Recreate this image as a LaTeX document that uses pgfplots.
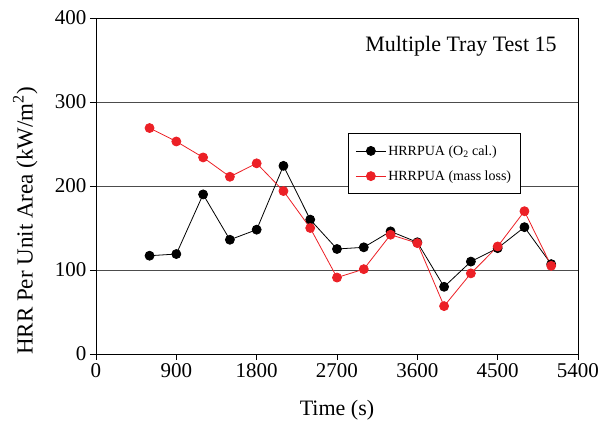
\documentclass[border=0pt]{standalone}
\usepackage{pgfplots}
\pgfplotsset{compat=1.18}
\usepackage{fontspec}
\setmainfont{Liberation Serif}
\definecolor{mlred}{RGB}{236,32,38}

\begin{document}
\begin{tikzpicture}
  \begin{axis}[
    scale only axis,
    width=482pt, height=336pt,
    xmin=0, xmax=5400, ymin=0, ymax=400,
    xtick={0,900,...,5400}, ytick={0,100,...,400},
    tick align=outside, major tick length=6pt,
    xtick pos=bottom, ytick pos=left,
    ymajorgrids, grid style={gray!60!black, line width=0.8pt},
    axis line style={line width=0.8pt},
    tick style={black, line width=0.8pt},
    /pgf/number format/assume math mode=true,
    /pgf/number format/1000 sep={},
    ticklabel style={font=\fontsize{21}{25}\selectfont},
    xlabel={Time (s)}, ylabel={HRR Per Unit Area (kW/m\textsuperscript{2})},
    xlabel style={at={(axis description cs:0.5,-0.167)}, anchor=center,
      font=\fontsize{22}{26}\selectfont},
    ylabel style={at={(axis description cs:-0.147,0.396)}, anchor=center,
      font=\fontsize{23}{27}\selectfont},
    legend style={at={(axis description cs:0.523,0.658)}, anchor=north west,
      font=\fontsize{14}{16}\selectfont, draw=black, line width=0.8pt,
      inner xsep=7pt, inner ysep=10pt, row sep=10pt},
    legend cell align=left,
    legend image code/.code={
      \draw[#1] (0cm,0cm) -- (30pt,0cm);
      \draw[#1, only marks] plot coordinates {(15pt,0cm)};
    },
    clip=false,
  ]
    \addplot[black, line width=0.8pt, mark=*, mark size=4.5pt] coordinates {
      (600,117) (900,119) (1200,190) (1500,136) (1800,148) (2100,224)
      (2400,160) (2700,125) (3000,127) (3300,146) (3600,133) (3900,80)
      (4200,110) (4500,126) (4800,151) (5100,107)
    };
    \addlegendentry{HRRPUA (O\textsubscript{2} cal.)}
    \addplot[mlred, line width=0.8pt, mark=*, mark size=4.5pt] coordinates {
      (600,269) (900,253) (1200,234) (1500,211) (1800,227) (2100,194)
      (2400,150) (2700,91) (3000,101) (3300,142) (3600,132) (3900,57)
      (4200,96) (4500,128) (4800,170) (5100,105)
    };
    \addlegendentry{HRRPUA (mass loss)}
    \node[anchor=east, font=\fontsize{22}{26}\selectfont]
      at (axis description cs:0.963,0.917) {Multiple Tray Test 15};
    \coordinate (sw) at (rel axis cs:0,0);
  \end{axis}
  \path (sw) ++(-96pt,-80pt) rectangle ++(606pt,434pt);
\end{tikzpicture}
\end{document}
